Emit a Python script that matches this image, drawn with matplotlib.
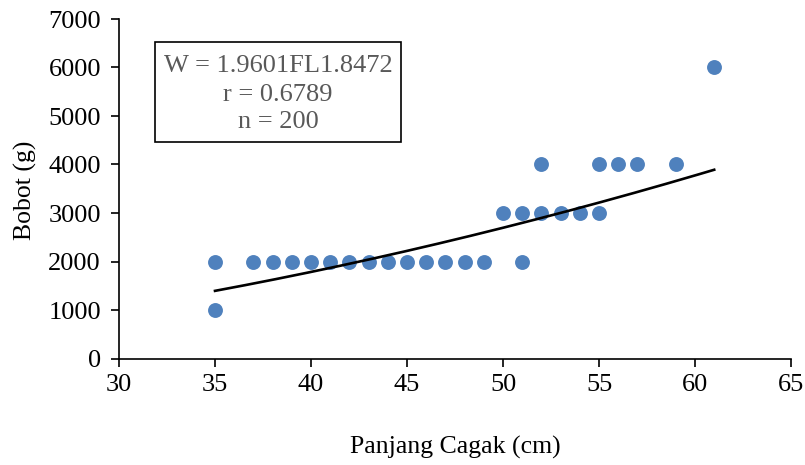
import numpy as np
import matplotlib
matplotlib.use("Agg")
import matplotlib.pyplot as plt
from matplotlib.patches import Rectangle

plt.rcParams['font.family'] = ['Liberation Serif', 'DejaVu Serif']

# Data (unique observed positions)
fl = [35, 35, 37, 38, 39, 40, 41, 42, 43, 44, 45, 46, 47, 48, 49,
      50, 51, 51, 52, 52, 53, 54, 55, 55, 56, 57, 59, 61]
w = [1000, 2000, 2000, 2000, 2000, 2000, 2000, 2000, 2000, 2000, 2000, 2000, 2000, 2000, 2000,
     3000, 3000, 2000, 3000, 4000, 3000, 3000, 3000, 4000, 4000, 4000, 4000, 6000]

# Power trend coefficients (W = a * FL^b)
a_coef = 1.9601
b_coef = 1.8472
trend_range = [35, 61]

xticks = [30, 35, 40, 45, 50, 55, 60, 65]
yticks = [0, 1000, 2000, 3000, 4000, 5000, 6000, 7000]

fig = plt.figure(figsize=(8.05, 4.65), dpi=100)
ax = fig.add_axes([119/805, 1 - 358.5/465, (791-119)/805, (358.5-19)/465])

ax.scatter(fl, w, s=115, color='#4F81BD', zorder=3, linewidths=0)
xt = np.linspace(trend_range[0], trend_range[1], 200)
ax.plot(xt, a_coef * xt ** b_coef, color='black', lw=1.9, zorder=4)

ax.set_xlim(30, 65)
ax.set_ylim(0, 7000)
ax.set_xticks(xticks)
ax.set_yticks(yticks)
ax.tick_params(axis='both', labelsize=19, length=6, width=1.2, direction='out', colors='black')
ax.tick_params(axis='x', pad=5)
ax.tick_params(axis='y', pad=7)
for s in ['top', 'right']:
    ax.spines[s].set_visible(False)
for s in ['left', 'bottom']:
    ax.spines[s].set_linewidth(1.2)

fig.text(455/805, 1 - 447/465, 'Panjang Cagak (cm)', ha='center', va='center', fontsize=18.5)
fig.text(25/805, 1 - 190/465, 'Bobot (g)', ha='center', va='center', fontsize=18.5, rotation=90)

# Equation box
fig.patches.append(Rectangle((155/805, 1 - 142/465), (401-155)/805, (142-42)/465,
                             transform=fig.transFigure, fill=False, edgecolor='black', lw=1.2))
lines = ['W = 1.9601FL1.8472', 'r = 0.6789', 'n = 200']
ys = [66, 95, 122]
for t, yy in zip(lines, ys):
    fig.text(278/805, 1 - yy/465, t, ha='center', va='center', fontsize=19, color='#595959')

fig.savefig('out.png', dpi=100)
